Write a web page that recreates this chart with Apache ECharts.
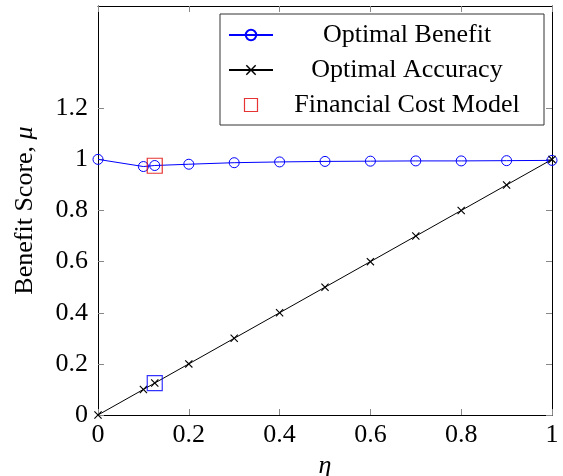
<!DOCTYPE html>
<html>
<head>
<meta charset="utf-8">
<script src="https://cdn.jsdelivr.net/npm/echarts@6/dist/echarts.min.js"></script>
<style>html,body{margin:0;padding:0;background:#fff;}#c{width:563px;height:476px;}</style>
</head>
<body>
<div id="c"></div>
<script>
const etaValues = [0, 0.1, 0.125, 0.2, 0.3, 0.4, 0.5, 0.6, 0.7, 0.8, 0.9, 1];
const benefitValues = [1.0, 0.972, 0.976, 0.981, 0.987, 0.99, 0.992, 0.993, 0.994, 0.994, 0.995, 0.996];
const accuracyValues = [0, 0.1, 0.125, 0.2, 0.3, 0.4, 0.5, 0.6, 0.7, 0.8, 0.9, 1];
const costEta = [0.125, 0.125];
const costValues = [0.975, 0.125];
const xTicks = [0, 0.2, 0.4, 0.6, 0.8, 1];
const yTicks = [0, 0.2, 0.4, 0.6, 0.8, 1, 1.2];

const FONT = '"Liberation Serif", "DejaVu Serif", serif';
const FS = 26;
const crossPath = 'path://M0,1L1,0L5,4L9,0L10,1L6,5L10,9L9,10L5,6L1,10L0,9L4,5Z';
const squarePath = 'path://M0,0L10,0L10,10L0,10Z';

const chart = echarts.init(document.getElementById('c'), null, {renderer: 'canvas'});

function axisCommon(ticks, showLabel, margin) {
  return {
    axisLine: {show: true, onZero: false, lineStyle: {color: '#000', width: 1}},
    axisTick: {show: true, inside: true, length: 6, customValues: ticks, lineStyle: {color: '#888', width: 1}},
    axisLabel: {show: showLabel, customValues: ticks, color: '#000', fontFamily: FONT, fontSize: FS, margin: margin || 8},
    splitLine: {show: false}
  };
}

const option = {
  animation: false,
  backgroundColor: '#fff',
  grid: {left: 98, right: 11, top: 6, bottom: 61, containLabel: false, outerBoundsMode: 'none'},
  legend: {
    orient: 'vertical',
    left: 220,
    top: 14,
    padding: [8, 8, 7, 8],
    itemWidth: 44,
    itemHeight: 13,
    itemGap: 9,
    borderColor: '#333',
    borderWidth: 1,
    backgroundColor: '#fff',
    formatter: function (n) { return '{t|' + n + '}'; },
    textStyle: {
      color: '#000', fontFamily: FONT, fontSize: FS,
      rich: {t: {width: 258, align: 'center', fontFamily: FONT, fontSize: FS, lineHeight: 26, color: '#000'}}
    },
    data: [
      'Optimal Benefit',
      'Optimal Accuracy',
      {name: 'Financial Cost Model', icon: squarePath, itemStyle: {color: 'rgba(255,255,255,0)', borderColor: '#e00000', borderWidth: 1.2}}
    ]
  },
  xAxis: [
    Object.assign({
      type: 'value', min: 0, max: 1, interval: 0.2, position: 'bottom',
      name: 'η', nameLocation: 'middle', nameGap: 38,
      nameTextStyle: {fontFamily: FONT, fontSize: FS, fontStyle: 'italic', color: '#000'}
    }, axisCommon(xTicks, true, 7)),
    Object.assign({type: 'value', min: 0, max: 1, interval: 0.2, position: 'top'}, axisCommon(xTicks, false))
  ],
  yAxis: [
    Object.assign({
      type: 'value', min: 0, max: 1.6, interval: 0.2, position: 'left',
      name: 'Benefit Score, {i|μ}', nameLocation: 'middle', nameGap: 60,
      nameTextStyle: {fontFamily: FONT, fontSize: FS, color: '#000',
        rich: {i: {fontFamily: FONT, fontSize: FS, fontStyle: 'italic', color: '#000'}}}
    }, axisCommon(yTicks, true, 10)),
    Object.assign({type: 'value', min: 0, max: 1.6, interval: 0.2, position: 'right'}, axisCommon(yTicks, false))
  ],
  series: [
    {
      name: 'Optimal Benefit', type: 'line', xAxisIndex: 0, yAxisIndex: 0,
      data: etaValues.map((x, i) => [x, benefitValues[i]]),
      symbol: 'circle', symbolSize: 10, showAllSymbol: true,
      lineStyle: {color: '#0000ff', width: 1},
      itemStyle: {color: 'rgba(255,255,255,0)', borderColor: '#0000ff', borderWidth: 1},
      z: 3
    },
    {
      name: 'Optimal Accuracy', type: 'line', xAxisIndex: 0, yAxisIndex: 0,
      data: etaValues.map((x, i) => [x, accuracyValues[i]]),
      symbol: crossPath, symbolSize: 8, showAllSymbol: true,
      lineStyle: {color: '#000', width: 1},
      itemStyle: {color: '#000', borderWidth: 0},
      z: 3
    },
    {
      name: 'Financial Cost Model', type: 'scatter', xAxisIndex: 0, yAxisIndex: 0,
      symbol: 'rect', symbolSize: 15,
      itemStyle: {color: 'rgba(255,255,255,0)', borderColor: '#e00000', borderWidth: 1.2},
      data: [
        {value: [costEta[0], costValues[0]]},
        {value: [costEta[1], costValues[1]], itemStyle: {color: 'rgba(255,255,255,0)', borderColor: '#0000ff', borderWidth: 1.2}}
      ],
      z: 5
    }
  ]
};
chart.setOption(option);
</script>
</body>
</html>
